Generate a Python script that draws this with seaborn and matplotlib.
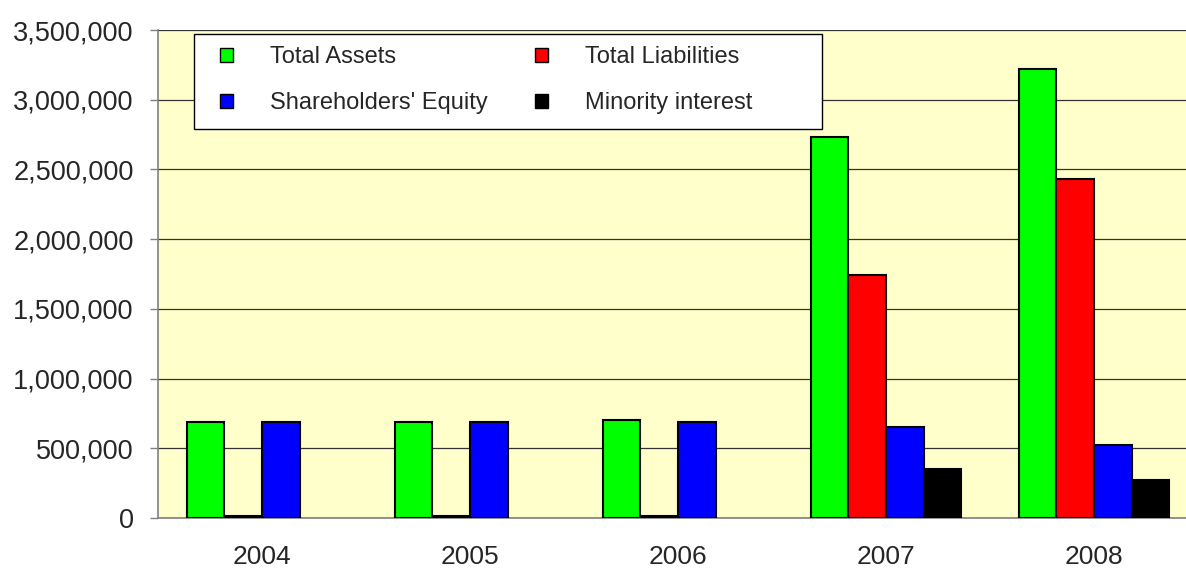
import pandas as pd
import matplotlib
matplotlib.use("Agg")
import matplotlib.pyplot as plt
import matplotlib.ticker as mticker
from matplotlib.patches import Patch, Rectangle
import seaborn as sns

years = ["2004", "2005", "2006", "2007", "2008"]
series = ["Total Assets", "Total Liabilities", "Shareholders' Equity", "Minority interest"]
total_assets = [690000, 690000, 705000, 2730000, 3220000]
total_liabilities = [14000, 14000, 14000, 1740000, 2430000]
shareholders_equity = [690000, 690000, 690000, 650000, 520000]
minority_interest = [None, None, None, 350000, 270000]
colors = ["#00FF00", "#FF0000", "#0000FF", "#000000"]


def main():
    rows = []
    for name, vals in zip(series, [total_assets, total_liabilities,
                                   shareholders_equity, minority_interest]):
        for yr, v in zip(years, vals):
            rows.append({"year": yr, "series": name, "value": v})
    df = pd.DataFrame(rows)
    df["value"] = pd.to_numeric(df["value"])

    sns.set_style("white")
    plt.rcParams["font.family"] = ["Liberation Sans", "DejaVu Sans"]

    fig = plt.figure(figsize=(11.86, 5.70), dpi=100)
    # axes runs a bit past the right edge, as in the cropped original
    ax = fig.add_axes([158 / 1186, 1 - 518 / 570, 1040 / 1186, 488 / 570])
    ax.set_facecolor("#FFFFCC")

    sns.barplot(
        data=df, x="year", y="value", hue="series",
        order=years, hue_order=series, palette=colors, saturation=1,
        width=0.725, edgecolor="black", linewidth=1.5,
        errorbar=None, legend=False, ax=ax, zorder=3,
    )

    ax.set_ylim(0, 3500000)
    ax.set_xlim(-0.5, 4.5)
    ax.yaxis.set_major_locator(mticker.MultipleLocator(500000))
    ax.yaxis.set_major_formatter(mticker.FuncFormatter(lambda v, p: f"{v:,.0f}"))
    ax.grid(axis="y", color="#333333", linewidth=0.9, zorder=0)
    ax.set_axisbelow(True)

    ax.set_xticks(range(len(years)))
    ax.set_xticklabels(years)
    ax.set_xticks([i - 0.5 for i in range(len(years) + 1)], minor=True)
    ax.tick_params(axis="x", which="major", length=0, pad=19.5, labelsize=19)
    ax.tick_params(axis="x", which="minor", length=5.5, width=1, color="#808080")
    ax.tick_params(axis="y", length=5.5, width=1, color="#808080", pad=12,
                   labelsize=19.5, left=True)

    for s in ["top", "right"]:
        ax.spines[s].set_visible(False)
    for s in ["left", "bottom"]:
        ax.spines[s].set_color("#808080")
        ax.spines[s].set_linewidth(1.2)

    ax.set_xlabel("")
    ax.set_ylabel("")

    # legend box drawn separately so its padding matches the original
    box = Rectangle((36 / 1040, (518 - 129) / 488), 628 / 1040, 95 / 488,
                    transform=ax.transAxes, facecolor="white",
                    edgecolor="black", linewidth=1.0, zorder=4, clip_on=False)
    ax.add_patch(box)

    # row-wise order: assets, liabilities / equity, minority
    order = [0, 2, 1, 3]
    handles = [Patch(facecolor=colors[i], edgecolor="black", linewidth=1) for i in order]
    labels = [series[i] for i in order]
    leg = ax.legend(
        handles, labels, ncol=2, loc="upper left",
        bbox_to_anchor=((220 - 158) / 1040, (518 - 46) / 488),
        fontsize=17, frameon=False, handlelength=0.55, handleheight=0.55,
        handletextpad=1.57, labelspacing=1.02, columnspacing=2.0,
        borderpad=0, borderaxespad=0,
    )
    leg.set_zorder(5)

    fig.savefig("out.png", dpi=100)
    plt.close(fig)


if __name__ == "__main__":
    main()
